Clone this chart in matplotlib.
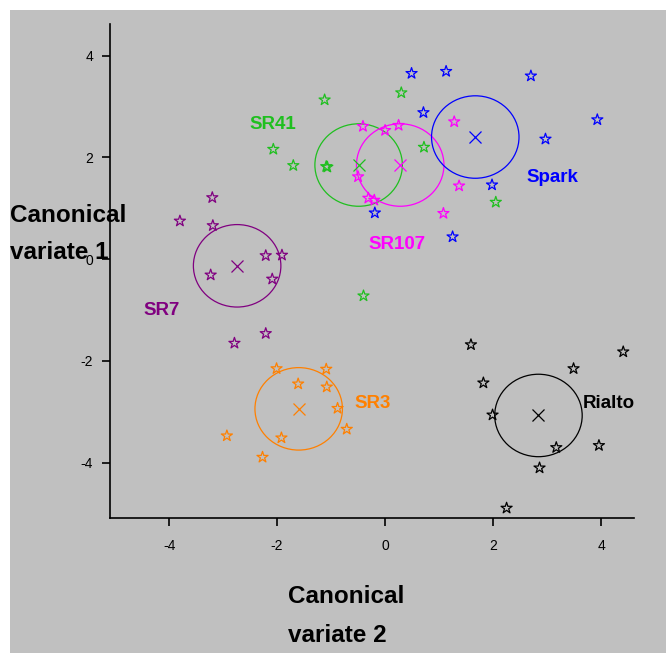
import matplotlib
matplotlib.use('Agg')
import matplotlib.pyplot as plt
from matplotlib.patches import Circle, Rectangle

plt.rcParams['font.family'] = 'Liberation Sans'
plt.rcParams['xtick.labelsize'] = 10
plt.rcParams['ytick.labelsize'] = 10
plt.rcParams['axes.unicode_minus'] = False

# group names, colours and label positions
groups = ['SR7', 'SR41', 'SR107', 'Spark', 'SR3', 'Rialto']
colors = ['#800080', '#1fbf1f', '#ff00ff', '#0000ff', '#ff8000', '#000000']
label_x = [-4.48, -2.52, -0.31, 2.62, -0.56, 3.66]
label_y = [-1.01, 2.64, 0.29, 1.60, -2.83, -2.83]

# group means (the x marks)
mean_x = [-2.74, -0.49, 0.28, 1.67, -1.60, 2.84]
mean_y = [-0.13, 1.85, 1.85, 2.40, -2.94, -3.07]
radius = 0.81

# individual scores
sr7_x = [-3.20, -3.80, -3.19, -2.21, -1.91, -3.23, -2.09, -2.21, -2.79]
sr7_y = [1.21, 0.75, 0.66, 0.07, 0.08, -0.31, -0.39, -1.46, -1.65]

sr41_x = [-1.12, -2.07, -1.70, -1.09, -1.07, -0.40, 0.30, 0.72, 2.05]
sr41_y = [3.13, 2.16, 1.84, 1.82, 1.81, -0.72, 3.27, 2.20, 1.12]

sr107_x = [-0.41, 0.00, 0.25, 1.28, -0.50, -0.31, -0.20, 1.37, 1.08]
sr107_y = [2.61, 2.53, 2.63, 2.70, 1.62, 1.20, 1.16, 1.44, 0.90]

spark_x = [0.49, 1.13, 2.70, 0.71, 3.93, 2.97, 1.98, -0.19, 1.25]
spark_y = [3.65, 3.69, 3.60, 2.88, 2.74, 2.36, 1.46, 0.91, 0.44]

sr3_x = [-2.01, -1.09, -1.61, -1.08, -0.88, -0.71, -2.93, -1.92, -2.27]
sr3_y = [-2.15, -2.16, -2.45, -2.51, -2.93, -3.34, -3.47, -3.51, -3.89]

rialto_x = [1.59, 4.41, 3.49, 1.82, 1.99, 3.17, 3.96, 2.86, 2.25]
rialto_y = [-1.68, -1.82, -2.15, -2.43, -3.06, -3.70, -3.66, -4.10, -4.89]

points_x = [sr7_x, sr41_x, sr107_x, spark_x, sr3_x, rialto_x]
points_y = [sr7_y, sr41_y, sr107_y, spark_y, sr3_y, rialto_y]

fig = plt.figure(figsize=(6.66, 6.53), dpi=100)
# gray panel with a thin white margin at top and left (kept behind the axes)
fig.patches.append(Rectangle((10 / 666, 0), 1, 1 - 10 / 653, transform=fig.transFigure,
                             facecolor='#c0c0c0', edgecolor='none', zorder=-10))

ax = fig.add_axes([0.1647, 0.2063, 0.7873, 0.7569])
ax.set_facecolor('none')

for i in range(len(groups)):
    ax.scatter(points_x[i], points_y[i], marker='*', s=70, facecolors='none',
               edgecolors=colors[i], linewidths=0.9)
    ax.plot(mean_x[i], mean_y[i], marker='x', color=colors[i], markersize=9,
            markeredgewidth=0.9, linestyle='none')
    ax.add_patch(Circle((mean_x[i], mean_y[i]), radius, fill=False,
                        edgecolor=colors[i], linewidth=0.9))
    ax.text(label_x[i], label_y[i], groups[i], color=colors[i], fontsize=13.5,
            fontweight='bold', ha='left', va='center')

ax.set_xlim(-5.1, 4.61)
ax.set_ylim(-5.09, 4.62)
ax.set_xticks([-4, -2, 0, 2, 4])
ax.set_yticks([-4, -2, 0, 2, 4])

# only left and bottom axes
ax.spines['top'].set_visible(False)
ax.spines['right'].set_visible(False)
ax.spines['left'].set_linewidth(1.2)
ax.spines['bottom'].set_linewidth(1.2)
ax.tick_params(axis='both', direction='out', length=6, width=1.2)
ax.tick_params(axis='x', pad=9)
ax.tick_params(axis='y', pad=6)

# axis titles written as two lines each
fig.text(10 / 666, 1 - 222 / 653, 'Canonical', fontsize=17.5, fontweight='bold',
         ha='left', va='baseline')
fig.text(10 / 666, 1 - 259 / 653, 'variate 1', fontsize=17.5, fontweight='bold',
         ha='left', va='baseline')
fig.text(288 / 666, 1 - 603 / 653, 'Canonical', fontsize=17.5, fontweight='bold',
         ha='left', va='baseline')
fig.text(288 / 666, 1 - 642 / 653, 'variate 2', fontsize=17.5, fontweight='bold',
         ha='left', va='baseline')

fig.savefig('out.png', dpi=100)
